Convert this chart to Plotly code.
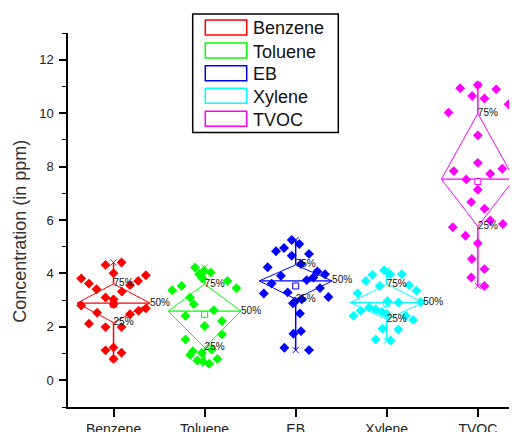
import plotly.graph_objects as go

# the page body adds an 8 px margin, so the figure is sized to fit inside the 517x432 window
OFF = 8
W, H = 517 - OFF, 432 - OFF
ML, MR, MT, MB = 60, 0, 25, 25.3
FONT = "Liberation Sans, Arial, sans-serif"

categories = ["Benzene", "Toluene", "EB", "Xylene", "TVOC"]
colors = ["#FF0000", "#00FF00", "#0000FF", "#00FFFF", "#FF00FF"]

# concentrations (ppm), with the horizontal spread used by the original
benzene = [4.41, 4.32, 4.01, 3.93, 3.81, 3.72, 3.62, 3.56, 3.41, 3.32, 3.10, 3.03, 2.85,
           2.80, 2.53, 2.69, 2.60, 2.47, 2.12, 1.99, 1.99, 1.23, 1.12, 1.03, 0.80]
benzene_jitter = [0.088, -0.088, 0.0, 0.355, -0.355, 0.27, -0.27, 0.18, -0.187, 0.092, -0.088, 0.0, 0.0,
                  -0.355, -0.18, 0.355, 0.275, 0.18, -0.27, -0.088, 0.088, 0.0, -0.088, 0.088, 0.0]

toluene = [4.22, 4.10, 4.04, 3.97, 3.82, 3.72, 3.53, 3.45, 3.37, 3.10, 2.85, 2.62, 2.41,
           2.22, 2.03, 1.72, 1.53, 1.09, 0.95, 1.02, 1.15, 0.74, 0.62, 0.80, 0.70]
toluene_jitter = [-0.106, -0.007, 0.066, -0.06, -0.025, 0.25, -0.253, 0.35, -0.356, -0.16, -0.12, 0.10, -0.21,
                  0.19, 0.0, 0.19, -0.21, -0.13, -0.16, -0.03, 0.08, -0.08, 0.05, 0.14, -0.02]

eb = [5.25, 5.10, 4.95, 4.83, 4.66, 4.73, 4.35, 4.23, 3.91, 3.62, 4.07, 3.97, 3.85,
      3.75, 3.29, 3.25, 3.45, 3.12, 2.95, 3.03, 2.88, 2.50, 1.74, 1.84, 1.22, 1.13]
eb_jitter = [-0.044, 0.04, -0.128, -0.216, -0.044, 0.146, 0.058, -0.308, -0.162, -0.264, 0.238, 0.322, 0.194,
             0.121, -0.088, -0.35, 0.267, 0.359, -0.007, 0.066, -0.03, 0.047, -0.025, 0.058, -0.124, 0.146]

xylene = [4.12, 3.97, 3.97, 3.94, 3.72, 3.53, 3.56, 3.35, 3.26, 2.93, 2.97, 2.91, 2.60,
          2.41, 2.72, 2.66, 2.56, 2.48, 2.26, 2.41, 1.93, 1.90, 1.53, 1.49]
xylene_jitter = [-0.03, 0.037, 0.165, -0.158, -0.23, -0.077, 0.246, 0.326, -0.32, 0.373, 0.007, 0.128, -0.286,
                 -0.366, -0.194, -0.121, -0.055, 0.0, 0.289, 0.209, -0.048, 0.128, -0.121, 0.044]

tvoc = [11.05, 10.93, 10.89, 10.64, 10.55, 10.33, 10.02, 9.17, 8.14, 7.83, 7.92, 7.73, 7.52,
        7.13, 6.67, 6.42, 5.98, 5.85, 5.73, 5.41, 5.13, 4.54, 4.16, 3.85, 3.53]
tvoc_jitter = [0.0, -0.194, 0.202, -0.062, 0.073, 0.337, -0.322, 0.0, 0.0, -0.264, 0.268, 0.136, -0.128,
               0.0, -0.073, 0.073, 0.136, 0.275, -0.275, -0.136, 0.0, -0.066, 0.073, -0.073, 0.073]

series_values = [benzene, toluene, eb, xylene, tvoc]
series_jitter = [benzene_jitter, toluene_jitter, eb_jitter, xylene_jitter, tvoc_jitter]

# box statistics as drawn in the picture
q1 = [2.16, 1.22, 3.04, 2.29, 5.76]
median = [2.89, 2.59, 3.72, 2.91, 7.53]
q3 = [3.61, 3.60, 4.32, 3.60, 9.99]
mean = [2.85, 2.47, 3.53, 2.87, 7.44]
pct_labels = ["25%", "50%", "75%"]

y_ticks = [0, 2, 4, 6, 8, 10, 12]

HW = 0.4  # diamond half width (category units)

fig = go.Figure()

for i, (name, col) in enumerate(zip(categories, colors)):
    vals = series_values[i]
    # diamond box
    fig.add_trace(go.Scatter(
        x=[i, i + HW, i, i - HW, i],
        y=[q3[i], median[i], q1[i], median[i], q3[i]],
        mode="lines", line=dict(color=col, width=1), hoverinfo="skip", showlegend=False))
    # median line
    fig.add_trace(go.Scatter(
        x=[i - HW, i + HW], y=[median[i], median[i]],
        mode="lines", line=dict(color=col, width=1.2), hoverinfo="skip", showlegend=False))
    # whiskers
    fig.add_trace(go.Scatter(
        x=[i, i, None, i, i], y=[q3[i], max(vals), None, q1[i], min(vals)],
        mode="lines", line=dict(color=col, width=1.5), hoverinfo="skip", showlegend=False))
    fig.add_trace(go.Scatter(
        x=[i, i], y=[max(vals), min(vals)], mode="markers",
        marker=dict(symbol="x-thin", size=6, line=dict(color=col, width=1)),
        hoverinfo="skip", showlegend=False))
    # mean marker
    fig.add_trace(go.Scatter(
        x=[i], y=[mean[i]], mode="markers",
        marker=dict(symbol="square", size=6, color="white", line=dict(color=col, width=1)),
        hoverinfo="skip", showlegend=False))

for i, (name, col) in enumerate(zip(categories, colors)):
    vals = series_values[i]
    jit = series_jitter[i]
    fig.add_trace(go.Scatter(
        x=[i + d for d in jit], y=vals, mode="markers", name=name,
        marker=dict(symbol="diamond", size=7.6, color=col, line=dict(width=0)),
        showlegend=False))

for i in range(len(categories)):
    fig.add_trace(go.Scatter(
        x=[i, i + HW, i], y=[q1[i], median[i], q3[i]],
        mode="text", text=pct_labels, textposition="middle right",
        textfont=dict(family=FONT, size=10, color="#111"),
        hoverinfo="skip", showlegend=False))


def px2x(px):
    # window pixel -> paper fraction
    return (px - OFF - ML) / (W - ML - MR)


def py2y(py):
    return (H - MB - (py - OFF)) / (H - MT - MB)


shapes = [dict(type="rect", xref="paper", yref="paper",
               x0=px2x(192.7), x1=px2x(338.3), y0=py2y(132.3), y1=py2y(14),
               line=dict(color="black", width=1.5), fillcolor="white", layer="above")]
annotations = []
row_centers = [27.5, 50.5, 73.2, 95.8, 118.8]
for name, col, yc in zip(categories, colors, row_centers):
    shapes.append(dict(type="rect", xref="paper", yref="paper",
                       x0=px2x(205.3), x1=px2x(246.7), y0=py2y(yc + 7.5), y1=py2y(yc - 7.5),
                       line=dict(color=col, width=1.5), fillcolor="white", layer="above"))
    annotations.append(dict(xref="paper", yref="paper", x=px2x(250.5), y=py2y(yc + 1),
                            text=name, showarrow=False, xanchor="left", yanchor="middle",
                            font=dict(family=FONT, size=18, color="#111")))

annotations.append(dict(xref="paper", yref="paper", x=px2x(20), y=py2y(231.7),
                        text="Concentration (in ppm)", textangle=-90, showarrow=False,
                        xanchor="center", yanchor="middle",
                        font=dict(family=FONT, size=18, color="#333")))

fig.update_layout(
    width=W, height=H,
    margin=dict(l=ML, r=MR, t=MT, b=MB, pad=0, autoexpand=False),
    plot_bgcolor="white", paper_bgcolor="white",
    showlegend=False,
    shapes=shapes, annotations=annotations,
    xaxis=dict(range=[-0.5, 4.43], tickmode="array", tickvals=list(range(len(categories))),
               ticktext=categories, showgrid=False, zeroline=False, automargin=False,
               showline=True, linecolor="black", linewidth=1.5,
               ticks="outside", ticklen=8, tickwidth=1.5, tickcolor="black",
               ticklabelstandoff=0,
               tickfont=dict(family=FONT, size=14, color="#222")),
    yaxis=dict(range=[-1, 13], tickmode="array", tickvals=y_ticks,
               ticktext=[str(v) for v in y_ticks], showgrid=False, zeroline=False, automargin=False,
               showline=True, linecolor="black", linewidth=1.5,
               ticks="outside", ticklen=7, tickwidth=1.5, tickcolor="black",
               ticklabelstandoff=3,
               minor=dict(dtick=1, tick0=0, ticks="outside", ticklen=4, tickwidth=1.2, tickcolor="black"),
               tickfont=dict(family=FONT, size=13, color="#222")),
)

fig.write_html("out.html")
